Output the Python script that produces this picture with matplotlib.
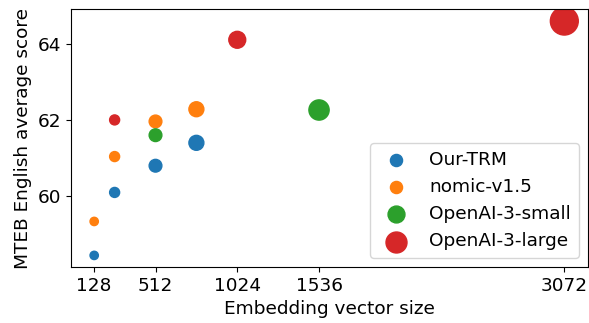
import numpy as np
import matplotlib
matplotlib.use("Agg")
import matplotlib.pyplot as plt

# embedding sizes and MTEB scores per model
trm_dims = [128, 256, 512, 768]
trm_scores = [58.45, 60.10, 60.80, 61.40]

nomic_dims = [128, 256, 512, 768]
nomic_scores = [59.34, 61.04, 61.96, 62.28]

small_dims = [512, 1536]
small_scores = [61.60, 62.26]

large_dims = [256, 1024, 3072]
large_scores = [62.00, 64.10, 64.59]

xticks = [128, 512, 1024, 1536, 3072]

plt.rcParams['font.size'] = 13.3

fig, ax = plt.subplots(figsize=(5.89, 3.23), dpi=100)

series = [
    ("Our-TRM", trm_dims, trm_scores),
    ("nomic-v1.5", nomic_dims, nomic_scores),
    ("OpenAI-3-small", small_dims, small_scores),
    ("OpenAI-3-large", large_dims, large_scores),
]
for name, dims, scores in series:
    d = np.array(dims)
    ax.scatter(d, scores, s=20 + d / 8, label=name)

ax.set_xticks(xticks)
ax.set_yticks([60, 62, 64])
ax.set_xlabel("Embedding vector size")
ax.set_ylabel("MTEB English average score")
ax.legend(loc="lower right")

plt.subplots_adjust(left=0.12, right=0.998, top=0.971, bottom=0.173)
plt.savefig("out.png")
